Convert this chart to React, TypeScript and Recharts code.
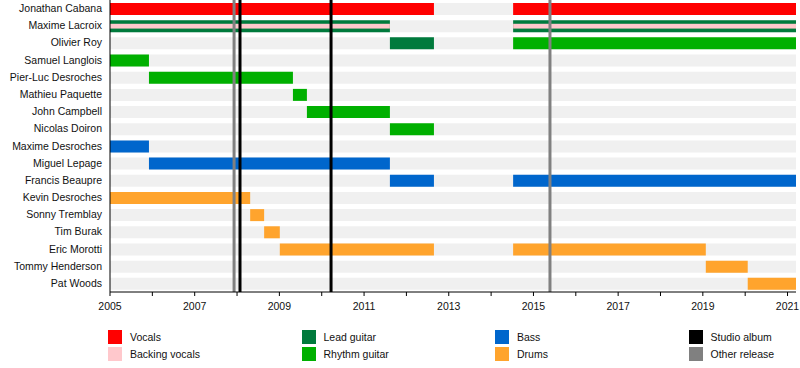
import { BarChart, Bar, XAxis, YAxis, ReferenceLine } from 'recharts';

const START = 2005;
const END = 2021.2;

const members = [
  'Jonathan Cabana',
  'Maxime Lacroix',
  'Olivier Roy',
  'Samuel Langlois',
  'Pier-Luc Desroches',
  'Mathieu Paquette',
  'John Campbell',
  'Nicolas Doiron',
  'Maxime Desroches',
  'Miguel Lepage',
  'Francis Beaupre',
  'Kevin Desroches',
  'Sonny Tremblay',
  'Tim Burak',
  'Eric Morotti',
  'Tommy Henderson',
  'Pat Woods',
];

type Span = [string, number, number];

const vocalSpans: Span[] = [
  ['Jonathan Cabana', 2005, 2012.65],
  ['Jonathan Cabana', 2014.52, END],
];
const leadSpans: Span[] = [
  ['Maxime Lacroix', 2005, 2011.61],
  ['Maxime Lacroix', 2014.52, END],
  ['Olivier Roy', 2011.61, 2012.65],
];
const backingSpans: Span[] = [
  ['Maxime Lacroix', 2005, 2011.61],
  ['Maxime Lacroix', 2014.52, END],
];
const rhythmSpans: Span[] = [
  ['Olivier Roy', 2014.52, END],
  ['Samuel Langlois', 2005, 2005.92],
  ['Pier-Luc Desroches', 2005.92, 2009.32],
  ['Mathieu Paquette', 2009.32, 2009.65],
  ['John Campbell', 2009.65, 2011.61],
  ['Nicolas Doiron', 2011.61, 2012.65],
];
const bassSpans: Span[] = [
  ['Maxime Desroches', 2005, 2005.92],
  ['Miguel Lepage', 2005.92, 2011.61],
  ['Francis Beaupre', 2011.61, 2012.65],
  ['Francis Beaupre', 2014.52, END],
];
const drumSpans: Span[] = [
  ['Kevin Desroches', 2005, 2008.31],
  ['Sonny Tremblay', 2008.31, 2008.64],
  ['Tim Burak', 2008.64, 2009.01],
  ['Eric Morotti', 2009.01, 2012.65],
  ['Eric Morotti', 2014.52, 2019.07],
  ['Tommy Henderson', 2019.07, 2020.06],
  ['Pat Woods', 2020.06, END],
];

const studioAlbums = [2008.07, 2010.22];
const otherReleases = [2007.93, 2015.39];

const yearTicks = [2005, 2006, 2007, 2008, 2009, 2010, 2011, 2012, 2013, 2014, 2015, 2016, 2017, 2018, 2019, 2020, 2021];

const roles = [
  { key: 'lead', color: '#007a3c', spans: leadSpans },
  { key: 'backing', color: '#ffc8cc', spans: backingSpans },
  { key: 'vocals', color: '#ff0000', spans: vocalSpans },
  { key: 'rhythm', color: '#00b000', spans: rhythmSpans },
  { key: 'bass', color: '#0066cc', spans: bassSpans },
  { key: 'drums', color: '#ffa42d', spans: drumSpans },
];

const rows = members.map((name) => {
  const row: any = { name, band: [START, END] };
  roles.forEach((r) => {
    r.spans
      .filter((s) => s[0] === name)
      .forEach((s, i) => {
        row[`${r.key}${i}`] = [s[1], s[2]];
      });
  });
  return row;
});

const legendItems = [
  { label: 'Vocals', color: '#ff0000' },
  { label: 'Backing vocals', color: '#ffc8cc' },
  { label: 'Lead guitar', color: '#007a3c' },
  { label: 'Rhythm guitar', color: '#00b000' },
  { label: 'Bass', color: '#0066cc' },
  { label: 'Drums', color: '#ffa42d' },
  { label: 'Studio album', color: '#000000' },
  { label: 'Other release', color: '#808080' },
];

const FONT = '"Liberation Sans", Arial, sans-serif';
const BAR = 12;

const stripe = (color: string) => (p: any) => (
  <rect x={p.x} y={p.y + p.height * 0.3} width={p.width} height={p.height * 0.4} fill={color} />
);

const NameTick = (props: any) => {
  const { x, y, payload } = props;
  return (
    <text x={x} y={y} dy={3.5} textAnchor="end" fontSize={10.5} fontFamily={FONT} fill="#111">
      {payload.value}
    </text>
  );
};

const YearTick = (props: any) => {
  const { x, y, payload } = props;
  if (payload.value % 2 !== 1) return <g />;
  return (
    <text x={x} y={y} dy={12} textAnchor="middle" fontSize={10.5} fontFamily={FONT} fill="#111">
      {payload.value}
    </text>
  );
};

export default function App() {
  return (
    <div style={{ position: 'relative', width: 800, height: 368, fontFamily: FONT }}>
      <style>{'body { margin: 0; }'}</style>
      <BarChart
        width={800}
        height={368}
        data={rows}
        layout="vertical"
        margin={{ top: 0, right: 4, bottom: 56, left: 0 }}
        barSize={BAR}
        barGap={-BAR}
      >
        <XAxis
          type="number"
          domain={[START, END]}
          ticks={yearTicks}
          allowDataOverflow
          interval={0}
          tick={<YearTick />}
          tickSize={4}
          stroke="#000"
          height={20}
        />
        <YAxis
          type="category"
          dataKey="name"
          width={110}
          tickLine={false}
          interval={0}
          tick={<NameTick />}
          stroke="#000"
        />
        <Bar dataKey="band" fill="#f0f0f0" isAnimationActive={false} />
        {otherReleases.map((x) => (
          <ReferenceLine key={`o${x}`} x={x} stroke="#808080" strokeWidth={3} />
        ))}
        {studioAlbums.map((x) => (
          <ReferenceLine key={`s${x}`} x={x} stroke="#000" strokeWidth={3} />
        ))}
        {roles.flatMap((r) =>
          [0, 1].map((i) =>
            r.key === 'backing' ? (
              <Bar
                key={`${r.key}${i}`}
                dataKey={`${r.key}${i}`}
                fill={r.color}
                shape={stripe(r.color)}
                isAnimationActive={false}
              />
            ) : (
              <Bar key={`${r.key}${i}`} dataKey={`${r.key}${i}`} fill={r.color} isAnimationActive={false} />
            )
          )
        )}
      </BarChart>
      {legendItems.map((item, i) => {
        const col = Math.floor(i / 2);
        const row = i % 2;
        return (
          <div
            key={item.label}
            style={{
              position: 'absolute',
              left: 108 + col * 193.5,
              top: 330 + row * 17,
              display: 'flex',
              alignItems: 'center',
              fontSize: 10.5,
              color: '#111',
            }}
          >
            <div style={{ width: 14, height: 14, background: item.color, marginRight: 8 }} />
            <span>{item.label}</span>
          </div>
        );
      })}
    </div>
  );
}
